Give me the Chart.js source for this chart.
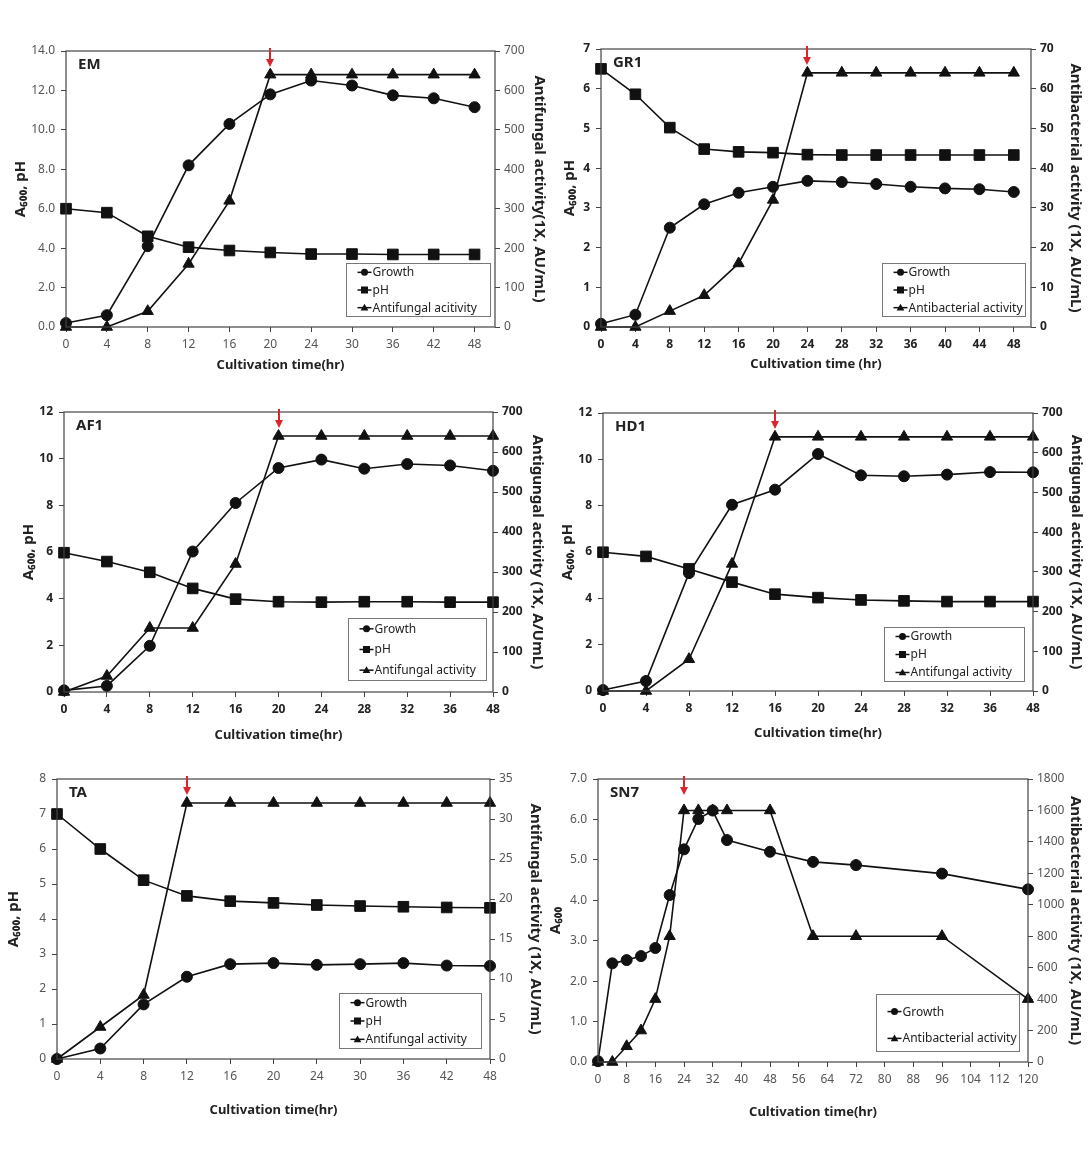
<!DOCTYPE html>
<html>
<head>
<meta charset="utf-8">
<script src="https://cdn.jsdelivr.net/npm/chart.js@4.4.1/dist/chart.umd.min.js"></script>
<style>
  body { margin: 0; background: #fff; width: 1088px; height: 1174px; position: relative; overflow: hidden; }
  canvas { position: absolute; }
</style>
</head>
<body>
<script>
// EM
const emTime = ['0', '4', '8', '12', '16', '20', '24', '30', '36', '42', '48'];
const emGrowth = [0.2, 0.6, 4.1, 8.2, 10.3, 11.8, 12.5, 12.25, 11.75, 11.6, 11.15];
const emPH = [6.0, 5.8, 4.6, 4.05, 3.88, 3.78, 3.7, 3.7, 3.68, 3.68, 3.68];
const emActivity = [0, 0, 40, 160, 320, 640, 640, 640, 640, 640, 640];

// GR1
const gr1Time = [0, 4, 8, 12, 16, 20, 24, 28, 32, 36, 40, 44, 48];
const gr1Growth = [0.08, 0.31, 2.5, 3.09, 3.38, 3.53, 3.68, 3.65, 3.6, 3.53, 3.49, 3.47, 3.4];
const gr1PH = [6.5, 5.86, 5.02, 4.48, 4.41, 4.39, 4.34, 4.33, 4.33, 4.33, 4.33, 4.33, 4.33];
const gr1Activity = [0, 0, 4, 8, 16, 32, 64, 64, 64, 64, 64, 64, 64];

// AF1
const af1Time = ['0', '4', '8', '12', '16', '20', '24', '28', '32', '36', '48'];
const af1Growth = [0.07, 0.26, 1.98, 6.02, 8.1, 9.6, 9.96, 9.57, 9.77, 9.71, 9.48];
const af1PH = [5.97, 5.59, 5.13, 4.44, 3.98, 3.87, 3.85, 3.87, 3.87, 3.85, 3.85];
const af1Activity = [0, 40, 160, 160, 320, 640, 640, 640, 640, 640, 640];

// HD1
const hd1Time = ['0', '4', '8', '12', '16', '20', '24', '28', '32', '36', '48'];
const hd1Growth = [0.04, 0.43, 5.09, 8.04, 8.69, 10.23, 9.31, 9.27, 9.34, 9.45, 9.44];
const hd1PH = [5.99, 5.81, 5.27, 4.7, 4.18, 4.03, 3.93, 3.89, 3.86, 3.86, 3.86];
const hd1Activity = [0, 0, 80, 320, 640, 640, 640, 640, 640, 640, 640];

// TA
const taTime = ['0', '4', '8', '12', '16', '20', '24', '30', '36', '42', '48'];
const taGrowth = [0, 0.3, 1.56, 2.35, 2.71, 2.74, 2.69, 2.71, 2.74, 2.67, 2.66];
const taPH = [7.0, 6.0, 5.11, 4.66, 4.51, 4.46, 4.4, 4.37, 4.35, 4.33, 4.32];
const taActivity = [0, 4, 8, 32, 32, 32, 32, 32, 32, 32, 32];

// SN7
const sn7Time = [0, 4, 8, 12, 16, 20, 24, 28, 32, 36, 48, 60, 72, 96, 120];
const sn7Growth = [0.02, 2.44, 2.52, 2.62, 2.82, 4.13, 5.26, 6.01, 6.22, 5.49, 5.2, 4.95, 4.87, 4.66, 4.27];
const sn7Activity = [0, 0, 100, 200, 400, 800, 1600, 1600, 1600, 1600, 1600, 800, 800, 800, 400];

Chart.defaults.font.family = '"Noto Sans", "DejaVu Sans", sans-serif';

const panels = [
  { name: 'EM', time: emTime, growth: emGrowth, ph: emPH, act: emActivity, cat: true, xMax: 10.5, xStep: 1,
    area: [66, 51, 495, 327], ltx: 21, rtx: 539, xty: 365,
    yMax: 14, yStep: 2, yDec: 1, y1Max: 700, y1Step: 100,
    yTitle: 'A₆₀₀, pH', y1Title: 'Antifungal activity(1X, AU/mL)', xTitle: 'Cultivation time(hr)',
    actLabel: 'Antifungal acitivity', arrow: 20, bold: false, box: [144, 53, 5, 11] },
  { name: 'GR1', time: gr1Time, growth: gr1Growth, ph: gr1PH, act: gr1Activity, cat: false, xMax: 50, xStep: 4,
    area: [601, 49, 1031, 327], ltx: 570, rtx: 1075, xty: 364,
    yMax: 7, yStep: 1, yDec: 0, y1Max: 70, y1Step: 10,
    yTitle: 'A₆₀₀, pH', y1Title: 'Antibacterial activity (1X, AU/mL)', xTitle: 'Cultivation time (hr)',
    actLabel: 'Antibacterial activity', arrow: 24, bold: true, box: [143, 53, 6, 11] },
  { name: 'AF1', time: af1Time, growth: af1Growth, ph: af1PH, act: af1Activity, cat: true, xMax: 10, xStep: 1,
    area: [64, 412, 493, 692], ltx: 29, rtx: 537, xty: 735,
    yMax: 12, yStep: 2, yDec: 0, y1Max: 700, y1Step: 100,
    yTitle: 'A₆₀₀, pH', y1Title: 'Antigungal activity (1X, A/UmL)', xTitle: 'Cultivation time(hr)',
    actLabel: 'Antifungal activity', arrow: 20, bold: true, box: [138, 62, 7, 12] },
  { name: 'HD1', time: hd1Time, growth: hd1Growth, ph: hd1PH, act: hd1Activity, cat: true, xMax: 10, xStep: 1,
    area: [603, 413, 1033, 691], ltx: 568, rtx: 1076, xty: 733,
    yMax: 12, yStep: 2, yDec: 0, y1Max: 700, y1Step: 100,
    yTitle: 'A₆₀₀, pH', y1Title: 'Antigungal activity (1X, AU/mL)', xTitle: 'Cultivation time(hr)',
    actLabel: 'Antifungal activity', arrow: 16, bold: true, box: [140, 54, 9, 10] },
  { name: 'TA', time: taTime, growth: taGrowth, ph: taPH, act: taActivity, cat: true, xMax: 10, xStep: 1,
    area: [57, 779, 490, 1059], ltx: 14, rtx: 535, xty: 1110,
    yMax: 8, yStep: 1, yDec: 0, y1Max: 35, y1Step: 5,
    yTitle: 'A₆₀₀, pH', y1Title: 'Antifungal activity (1X, AU/mL)', xTitle: 'Cultivation time(hr)',
    actLabel: 'Antifungal activity', arrow: 12, bold: false, box: [142, 55, 9, 11] },
  { name: 'SN7', time: sn7Time, growth: sn7Growth, ph: null, act: sn7Activity, cat: false, xMax: 120, xStep: 8,
    area: [598, 779, 1028, 1062], ltx: 556, rtx: 1075, xty: 1112,
    yMax: 7, yStep: 1, yDec: 1, y1Max: 1800, y1Step: 200,
    yTitle: 'A₆₀₀', y1Title: 'Antibacterial activity (1X, AU/mL)', xTitle: 'Cultivation time(hr)',
    actLabel: 'Antibacterial activity', arrow: 24, bold: false, box: [143, 57, 9, 11] }
];

const ink = '#111';
const FONT = '"Noto Sans", "DejaVu Sans", sans-serif';

function drawMarker(ctx, style, x, y, r) {
  ctx.beginPath();
  if (style === 'circle') {
    ctx.arc(x, y, r, 0, Math.PI * 2);
  } else if (style === 'rect') {
    ctx.rect(x - r, y - r, r * 2, r * 2);
  } else {
    ctx.moveTo(x, y - r * 1.1);
    ctx.lineTo(x + r * 1.1, y + r * 0.8);
    ctx.lineTo(x - r * 1.1, y + r * 0.8);
    ctx.closePath();
  }
  ctx.fill();
}

const decor = {
  id: 'decor',
  afterDraw(chart, args, opts) {
    const { ctx, chartArea: a, scales } = chart;
    ctx.save();
    // plot frame
    ctx.strokeStyle = '#444';
    ctx.lineWidth = 1.2;
    ctx.strokeRect(a.left, a.top, a.right - a.left, a.bottom - a.top);

    // red arrow over the time of maximum activity
    const ax = Math.round(scales.x.getPixelForValue(opts.arrow));
    ctx.strokeStyle = '#d8262c';
    ctx.fillStyle = '#d8262c';
    ctx.lineWidth = 2;
    ctx.beginPath();
    ctx.moveTo(ax, a.top - 3);
    ctx.lineTo(ax, a.top + 9);
    ctx.stroke();
    ctx.beginPath();
    ctx.moveTo(ax - 4, a.top + 8);
    ctx.lineTo(ax + 4, a.top + 8);
    ctx.lineTo(ax, a.top + 16);
    ctx.closePath();
    ctx.fill();

    // panel name
    ctx.fillStyle = '#222';
    ctx.font = 'bold 15px ' + FONT;
    ctx.textBaseline = 'middle';
    ctx.textAlign = 'left';
    ctx.fillText(opts.name, a.left + 12, a.top + 14);

    // legend box
    const [w, h, dr, db] = opts.box;
    const bx = Math.round(a.right - dr - w) + 0.5;
    const by = Math.round(a.bottom - db - h) + 0.5;
    ctx.fillStyle = '#fff';
    ctx.fillRect(bx, by, w, h);
    ctx.strokeStyle = '#777';
    ctx.lineWidth = 1;
    ctx.strokeRect(bx, by, w, h);

    const sets = chart.data.datasets;
    const rows = sets.length === 3 ? [1 / 6, 1 / 2, 5 / 6] : [0.3, 0.77];
    ctx.font = '12px ' + FONT;
    sets.forEach((ds, i) => {
      const y = by + h * rows[i];
      ctx.strokeStyle = ink;
      ctx.fillStyle = ink;
      ctx.lineWidth = 1.5;
      ctx.beginPath();
      ctx.moveTo(bx + 11, y);
      ctx.lineTo(bx + 25, y);
      ctx.stroke();
      drawMarker(ctx, ds.pointStyle, bx + 18, y, 3.5);
      ctx.fillStyle = '#222';
      ctx.fillText(ds.label, bx + 26, y + 0.5);
    });
    ctx.restore();
  }
};

panels.forEach(p => {
  const [l, t, r, b] = p.area;
  const cl = p.ltx - 9, cr = p.rtx + 9, ct = t - 22, cb = p.xty + 8;
  const leftW = l - cl, rightW = cr - r, xH = cb - b;

  const canvas = document.createElement('canvas');
  canvas.width = cr - cl;
  canvas.height = cb - ct;
  canvas.style.left = cl + 'px';
  canvas.style.top = ct + 'px';
  document.body.appendChild(canvas);

  const xs = p.time.map((v, i) => (p.cat ? i : v));
  const pts = arr => arr.map((v, i) => ({ x: xs[i], y: v }));
  const line = (label, arr, style, radius, axis) => ({
    label, data: pts(arr), yAxisID: axis, pointStyle: style, pointRadius: radius,
    borderColor: ink, backgroundColor: ink, pointBackgroundColor: ink, pointBorderColor: ink,
    borderWidth: 1.6, pointBorderWidth: 1, clip: false, tension: 0
  });

  const datasets = [line('Growth', p.growth, 'circle', 5.5, 'y')];
  if (p.ph) datasets.push(line('pH', p.ph, 'rect', 7.5, 'y'));
  datasets.push(line(p.actLabel, p.act, 'triangle', 6.5, 'y1'));

  const tickFont = { size: 12, weight: p.bold ? 'bold' : 'normal' };
  const tickColor = p.bold ? '#222' : '#555';
  const titleFont = { size: 13, weight: 'bold' };
  const yTitleFont = { size: 15, weight: 'bold' };
  const arrowAt = p.cat ? p.time.indexOf(String(p.arrow)) : p.arrow;

  new Chart(canvas, {
    type: 'line',
    data: { datasets },
    options: {
      responsive: false,
      animation: false,
      layout: { padding: { top: 22, left: 0, right: 0, bottom: 0 } },
      plugins: {
        legend: { display: false },
        tooltip: { enabled: false },
        decor: { name: p.name, arrow: arrowAt, box: p.box }
      },
      scales: {
        x: {
          type: 'linear', min: 0, max: p.xMax,
          afterFit: s => { s.height = xH; },
          border: { display: false },
          grid: { drawOnChartArea: false, tickLength: 5, color: '#444' },
          ticks: {
            stepSize: p.xStep, includeBounds: false, autoSkip: false, maxRotation: 0,
            padding: 5, font: tickFont, color: tickColor,
            callback: v => (p.cat ? (Number.isInteger(v) ? p.time[v] : '') : String(v))
          },
          title: { display: true, text: p.xTitle, font: titleFont, color: '#222', padding: 0 }
        },
        y: {
          position: 'left', min: 0, max: p.yMax,
          afterFit: s => { s.width = leftW; },
          border: { display: false },
          grid: { drawOnChartArea: false, tickLength: 5, color: '#444' },
          ticks: { stepSize: p.yStep, padding: 6, font: tickFont, color: tickColor,
                   callback: v => v.toFixed(p.yDec) },
          title: { display: true, text: p.yTitle, font: yTitleFont, color: '#222', padding: 0 }
        },
        y1: {
          position: 'right', min: 0, max: p.y1Max,
          afterFit: s => { s.width = rightW; },
          border: { display: false },
          grid: { drawOnChartArea: false, tickLength: 5, color: '#444' },
          ticks: { stepSize: p.y1Step, padding: 4, font: tickFont, color: tickColor,
                   callback: v => String(v) },
          title: { display: true, text: p.y1Title, font: yTitleFont, color: '#222', padding: 0 }
        }
      }
    },
    plugins: [decor]
  });
});
</script>
</body>
</html>
